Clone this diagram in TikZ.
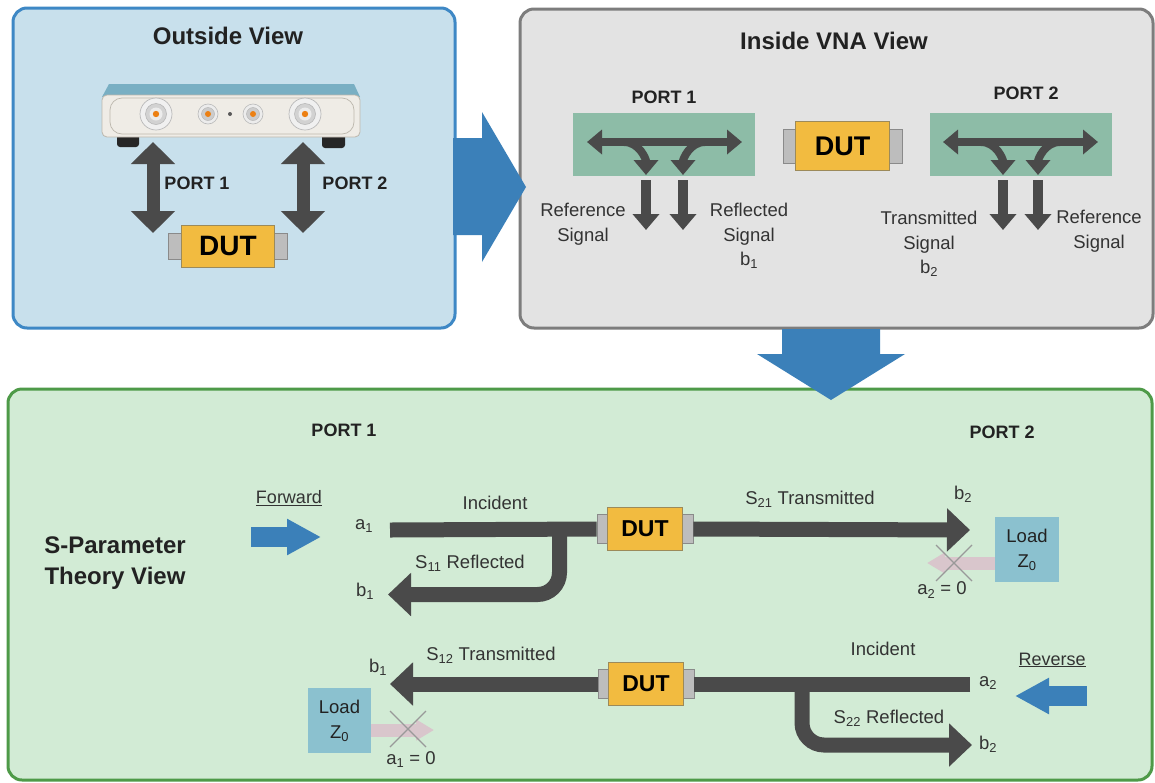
\documentclass[tikz,border=0pt]{standalone}
\usepackage{fontspec}
\setmainfont{Liberation Sans}
\usetikzlibrary{arrows.meta}

\definecolor{blueFill}{HTML}{C8E0EC}
\definecolor{blueEdge}{HTML}{3E88C5}
\definecolor{grayFill}{HTML}{E3E3E3}
\definecolor{grayEdge}{HTML}{7D7D7D}
\definecolor{greenFill}{HTML}{D2EBD5}
\definecolor{greenEdge}{HTML}{4E9A48}
\definecolor{flowBlue}{HTML}{3B80B9}
\definecolor{darkArrow}{HTML}{4A4A4A}
\definecolor{couplerGreen}{HTML}{8DBCA7}
\definecolor{dutYellow}{HTML}{F2BB40}
\definecolor{dutEdge}{HTML}{9C8A5A}
\definecolor{capGray}{HTML}{BDBDBD}
\definecolor{capEdge}{HTML}{8A8A8A}
\definecolor{loadBlue}{HTML}{8BC1CF}
\definecolor{blocked}{HTML}{D9C6CC}
\definecolor{lidBlue}{HTML}{79AFC3}
\definecolor{frontCream}{HTML}{EFECE6}
\definecolor{frontEdge}{HTML}{BCB7AD}
\definecolor{txt}{HTML}{222222}
\definecolor{lbltxt}{HTML}{333333}

\newcommand{\fs}[1]{\fontsize{#1}{#1}\selectfont}

\begin{document}
\begin{tikzpicture}[x=1pt,y=-1pt,
  panel/.style={line width=3pt, rounded corners=14pt},
  title/.style={font=\bfseries\fs{24}, text=txt, inner sep=0pt},
  portlbl/.style={font=\bfseries\fs{18}, text=txt, inner sep=0pt},
  lbl/.style={font=\fontsize{18.5}{24.5}\selectfont, text=lbltxt, align=center, inner sep=0pt},
  dutbody/.style={fill=dutYellow, draw=dutEdge, line width=0.8pt, font=\bfseries, text=black, inner sep=0pt},
  dutcap/.style={fill=capGray, draw=capEdge, line width=0.8pt, inner sep=0pt},
  coupler/.style={fill=couplerGreen, inner sep=0pt},
  loadbox/.style={fill=loadBlue, inner sep=0pt, align=center, font=\fontsize{18.5}{25}\selectfont, text=txt},
  bar/.style={draw=darkArrow, line width=15pt},
  barhead/.style={-{Triangle[width=42pt,length=23pt]}},
  thinflow/.style={draw=darkArrow, line width=8pt, -{Triangle[width=24pt,length=15pt]}},
  tapflow/.style={draw=darkArrow, line width=10pt, -{Triangle[width=26pt,length=16pt]}},
  bigdouble/.style={draw=darkArrow, line width=13pt, {Triangle[width=43pt,length=22pt]}-{Triangle[width=43pt,length=22pt]}},
  couplerline/.style={draw=darkArrow, line width=7.5pt, {Triangle[width=24pt,length=15pt]}-{Triangle[width=24pt,length=15pt]}},
  drive/.style={draw=flowBlue, line width=20pt, -{Triangle[width=34pt,length=34pt]}},
  noflow/.style={draw=blocked, line width=13pt, -{Triangle[width=20pt,length=18pt]}},
  cross/.style={draw=gray!80, line width=1.2pt},
]
\useasboundingbox (0,0) rectangle (1155,782);
\fill[white] (0,0) rectangle (1155,782);

% ---------- the three panels ----------
\draw[panel, fill=blueFill, draw=blueEdge] (13,8) rectangle (455,328);
\draw[panel, fill=grayFill, draw=grayEdge] (520,9) rectangle (1153,328);
\draw[panel, fill=greenFill, draw=greenEdge] (8,389) rectangle (1152,780);

% ---------- flow arrows between panels ----------
\fill[flowBlue] (453,138) -- (482,138) -- (482,112) -- (526,187) -- (482,262) -- (482,235) -- (453,235) -- cycle;
\fill[flowBlue] (782,329) -- (880,329) -- (880,354) -- (905,354) -- (831,400) -- (757,354) -- (782,354) -- cycle;

% ---------- Outside View ----------
\node[title] (t1) at (228,36) {Outside View};

% instrument: feet, lid, front panel
\fill[black!85, rounded corners=3pt] (117,133) rectangle (139,147);
\fill[black!85, rounded corners=3pt] (322,133) rectangle (345,148);
\fill[lidBlue] (102,97) -- (109,84) -- (354,84) -- (360,97) -- cycle;
\draw[fill=frontCream, draw=frontEdge, line width=0.8pt, rounded corners=5pt] (102,95) rectangle (360,137);
\draw[frontEdge, line width=0.7pt, rounded corners=12pt] (110,98) rectangle (354,134);
% test port connectors
\foreach \cx in {156,305}{
  \draw[fill=gray!12, draw=gray!55, line width=0.7pt] (\cx,114) circle (16);
  \draw[fill=gray!35, draw=gray!60, line width=0.5pt] (\cx,114) circle (10.5);
  \fill[white!85!gray] (\cx,114) circle (6.5);
  \fill[orange!70!brown] (\cx,114) circle (3.2);
}
\foreach \cx in {208,253}{
  \draw[fill=gray!15, draw=gray!55, line width=0.6pt] (\cx,114) circle (10);
  \draw[fill=gray!40, draw=gray!60, line width=0.4pt] (\cx,114) circle (6.5);
  \fill[orange!70!brown] (\cx,114) circle (3);
}
\fill[gray!70!black] (230,114) circle (2);

% port cables
\coordinate (p1top) at (153,142);
\coordinate (p1bot) at (153,233);
\coordinate (p2top) at (303,142);
\coordinate (p2bot) at (303,233);
\draw[bigdouble] (p1top) -- (p1bot);
\draw[bigdouble] (p2top) -- (p2bot);
\node[portlbl] (op1) at (197,183) {PORT 1};
\node[portlbl] (op2) at (355,183) {PORT 2};

% device under test
\node[dutcap, minimum width=119, minimum height=26] (dutAc) at (228,246) {};
\node[dutbody, minimum width=93, minimum height=42, font=\bfseries\fs{28}] (dutA) at (228,246) {DUT};

% ---------- Inside VNA View ----------
\node[title] (t2) at (834,41) {Inside VNA View};
\node[portlbl] (ip1) at (664,97) {PORT 1};
\node[portlbl] (ip2) at (1026,93) {PORT 2};

\node[coupler, minimum width=182, minimum height=63] (cA) at (664,144.5) {};
\node[coupler, minimum width=182, minimum height=63] (cB) at (1021,144.5) {};

\node[dutcap, minimum width=119, minimum height=34] (dutBc) at (842.5,146) {};
\node[dutbody, minimum width=94, minimum height=49, font=\bfseries\fs{27}] (dutB) at (842.5,146) {DUT};

% port 1 coupler
\coordinate (cAl) at (587,142);
\coordinate (cAr) at (742,142);
\draw[couplerline] (cAl) -- (cAr);
\coordinate (cAs1) at (624,142);
\coordinate (cAe1) at (646,175);
\coordinate (cAs2) at (705,142);
\coordinate (cAe2) at (683,175);
\draw[thinflow] (cAs1) to[out=0,in=90] (cAe1);
\draw[thinflow] (cAs2) to[out=180,in=90] (cAe2);
\coordinate (tA1s) at (646,180);
\coordinate (tA1e) at (646,230);
\coordinate (tA2s) at (683,180);
\coordinate (tA2e) at (683,230);
\draw[tapflow] (tA1s) -- (tA1e);
\draw[tapflow] (tA2s) -- (tA2e);
\node[lbl] (refA) at (583,224) {Reference\\Signal};
\node[lbl] (reflA) at (749,236) {Reflected\\Signal\\b\textsubscript{1}};

% port 2 coupler
\coordinate (cBl) at (943,142);
\coordinate (cBr) at (1098,142);
\draw[couplerline] (cBl) -- (cBr);
\coordinate (cBs1) at (981,142);
\coordinate (cBe1) at (1003,175);
\coordinate (cBs2) at (1060,142);
\coordinate (cBe2) at (1038,175);
\draw[thinflow] (cBs1) to[out=0,in=90] (cBe1);
\draw[thinflow] (cBs2) to[out=180,in=90] (cBe2);
\coordinate (tB1s) at (1003,180);
\coordinate (tB1e) at (1003,230);
\coordinate (tB2s) at (1038,180);
\coordinate (tB2e) at (1038,230);
\draw[tapflow] (tB1s) -- (tB1e);
\draw[tapflow] (tB2s) -- (tB2e);
\node[lbl] (tranB) at (929,244) {Transmitted\\Signal\\b\textsubscript{2}};
\node[lbl] (refB) at (1099,231) {Reference\\Signal};

% ---------- S-Parameter Theory View ----------
\node[portlbl] (sp1) at (344,430) {PORT 1};
\node[portlbl] (sp2) at (1002,432) {PORT 2};
\node[title, align=center, font=\bfseries\fontsize{24}{31}\selectfont] (th) at (115,563) {S-Parameter\\Theory View};

% forward measurement
\node[lbl, font=\fs{18}] (fwd) at (289,498) {\underline{Forward}};
\coordinate (fwdS) at (251,537);
\coordinate (fwdE) at (321,537);
\draw[drive] (fwdS) -- (fwdE);

\node[dutcap, minimum width=96, minimum height=29] (dutFc) at (645,529) {};
\node[dutbody, minimum width=75, minimum height=43, font=\bfseries\fs{23}] (dutF) at (645,529) {DUT};
\coordinate (a1) at (390,530);
\coordinate (s21tip) at (970,530);
\coordinate (s11top) at (559.5,530);
\coordinate (b1tip) at (388,594.5);
\draw[bar] (a1) -- (dutFc.west);
\draw[bar, barhead] (dutFc.east) -- (s21tip);
\draw[bar, barhead, rounded corners=22pt] (s11top) |- (b1tip);

\node[lbl] (a1l) at (364,526) {a\textsubscript{1}};
\node[lbl] (b1l) at (365,591) {b\textsubscript{1}};
\node[lbl] (incF) at (495,503) {Incident};
\node[lbl] (s11) at (470,563) {S\textsubscript{11} Reflected};
\node[lbl] (s21) at (810,499) {S\textsubscript{21} Transmitted};
\node[lbl] (b2l) at (963,494) {b\textsubscript{2}};

\node[loadbox, minimum width=64, minimum height=65] (loadR) at (1027,549.5) {Load\\Z\textsubscript{0}};
\coordinate (a2tip) at (927,563);
\draw[noflow] (loadR.west |- a2tip) -- (a2tip);
\coordinate (xR) at (954,563);
\draw[cross] (xR) ++(-18,-18) -- ++(36,36);
\draw[cross] (xR) ++(18,-18) -- ++(-36,36);
\node[lbl] (a2z) at (942,590) {a\textsubscript{2} = 0};

% reverse measurement
\node[lbl, font=\fs{18}] (rev) at (1052,660) {\underline{Reverse}};
\coordinate (revS) at (1087,696);
\coordinate (revE) at (1015,696);
\draw[drive] (revS) -- (revE);

\node[dutcap, minimum width=96, minimum height=29] (dutRc) at (646,684) {};
\node[dutbody, minimum width=75, minimum height=43, font=\bfseries\fs{23}] (dutR) at (646,684) {DUT};
\coordinate (a2) at (970,684);
\coordinate (s12tip) at (390,684);
\coordinate (s22top) at (802,684);
\coordinate (b2tip) at (972,745);
\draw[bar] (a2) -- (dutRc.east);
\draw[bar, barhead] (dutRc.west) -- (s12tip);
\draw[bar, barhead, rounded corners=22pt] (s22top) |- (b2tip);

\node[lbl] (a2l) at (988,683) {a\textsubscript{2}};
\node[lbl] (b2r) at (988,744) {b\textsubscript{2}};
\node[lbl] (incR) at (883,649) {Incident};
\node[lbl] (s22) at (889,718) {S\textsubscript{22} Reflected};
\node[lbl] (s12) at (491,655) {S\textsubscript{12} Transmitted};
\node[lbl] (b1r) at (378,667) {b\textsubscript{1}};

\node[loadbox, minimum width=63, minimum height=65] (loadL) at (339.5,720.5) {Load\\Z\textsubscript{0}};
\coordinate (a1tip) at (434,730);
\draw[noflow] (loadL.east |- a1tip) -- (a1tip);
\coordinate (xL) at (408,729);
\draw[cross] (xL) ++(-18,-18) -- ++(36,36);
\draw[cross] (xL) ++(18,-18) -- ++(-36,36);
\node[lbl] (a1z) at (411,760) {a\textsubscript{1} = 0};
\end{tikzpicture}
\end{document}
